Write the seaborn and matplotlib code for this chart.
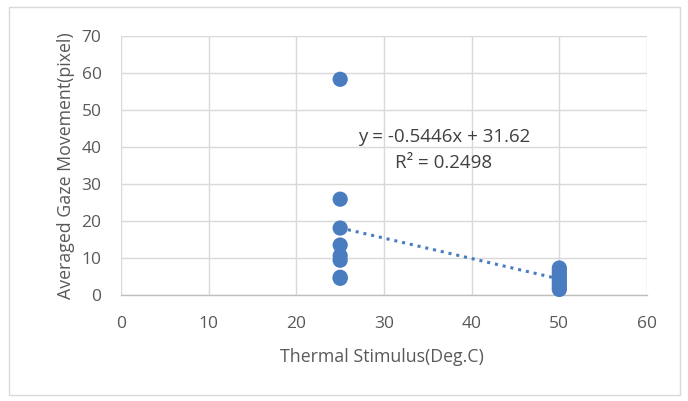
import numpy as np
import pandas as pd
import matplotlib
matplotlib.use("Agg")
import matplotlib.pyplot as plt
import seaborn as sns
from matplotlib.patches import Rectangle

stimulus_25 = [25, 25, 25, 25, 25, 25, 25, 25]
movement_25 = [58.3, 25.9, 18.1, 13.5, 10.6, 9.4, 4.8, 4.5]
stimulus_50 = [50, 50, 50, 50, 50, 50, 50, 50, 50]
movement_50 = [7.3, 6.5, 5.8, 5.0, 4.3, 3.6, 2.9, 2.1, 1.5]
x_ticks = [0, 10, 20, 30, 40, 50, 60]
y_ticks = [0, 10, 20, 30, 40, 50, 60, 70]
eq_text = "y = -0.5446x + 31.62"
r2_text = "R² = 0.2498"

df = pd.DataFrame({
    "x": stimulus_25 + stimulus_50,
    "y": movement_25 + movement_50,
})

sns.set_style("white")
plt.rcParams["font.family"] = ["Open Sans", "DejaVu Sans"]

blue = "#4A7CC0"
txt = "#595959"

fig = plt.figure(figsize=(6.88, 4.01), dpi=100)
fig.patches.append(Rectangle((9 / 688, 1 - 395 / 401), 671 / 688, 388 / 401,
                             transform=fig.transFigure, fill=False,
                             edgecolor="#D9D9D9", linewidth=1.0))
ax = fig.add_axes([121 / 688, 1 - 295 / 401, 526 / 688, 259 / 401])

ax.set_xlim(0, 60)
ax.set_ylim(0, 70)
ax.set_xticks(x_ticks)
ax.set_yticks(y_ticks)
ax.grid(True, color="#D9D9D9", linewidth=1.0)
ax.set_axisbelow(True)
for s in ["top", "right", "left"]:
    ax.spines[s].set_visible(False)
ax.spines["bottom"].set_color("#BFBFBF")
ax.spines["bottom"].set_linewidth(1.0)
ax.tick_params(axis="both", length=0, labelsize=12.5, colors=txt)
ax.tick_params(axis="x", pad=15)
ax.tick_params(axis="y", pad=14)

# trendline
coef = np.polyfit(df["x"], df["y"], 1)
xs = np.array([min(df["x"]), max(df["x"])])
sns.lineplot(x=xs, y=np.polyval(coef, xs), ax=ax, color=blue,
             linestyle=(0, (1, 1.6)), linewidth=2.2, zorder=2)

sns.scatterplot(data=df, x="x", y="y", ax=ax, color=blue, s=120,
                edgecolor="none", zorder=3, clip_on=False)

ax.text(36.84, 42.7, eq_text, ha="center", va="center", fontsize=13.5, color="#404040")
ax.text(36.84, 35.6, r2_text, ha="center", va="center", fontsize=13.5, color="#404040")

ax.set_xlabel("Thermal Stimulus(Deg.C)", fontsize=12.8, color=txt)
ax.set_ylabel("Averaged Gaze Movement(pixel)", fontsize=12.8, color=txt)
ax.xaxis.set_label_coords(0.4962, -0.238)
ax.yaxis.set_label_coords(-0.1046, 0.5)
ax.xaxis.label.set_va("center")
ax.yaxis.label.set_va("center")

fig.savefig("out.png", dpi=100)
